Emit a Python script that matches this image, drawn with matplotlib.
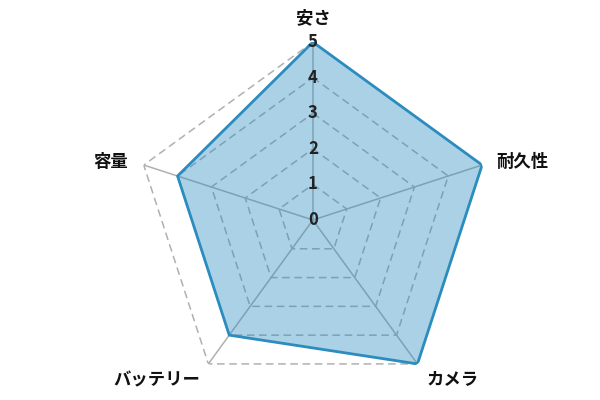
import numpy as np
import matplotlib
matplotlib.use("Agg")
import matplotlib.pyplot as plt

plt.rcParams['font.family'] = ['Noto Sans CJK JP', 'DejaVu Sans']

categories = ["安さ", "耐久性", "カメラ", "バッテリー", "容量"]
values = [5, 5, 5, 4, 4]
levels = [1, 2, 3, 4, 5]
max_value = 5

line_color = "#2b8cbe"
grid_color = "#b0b0b0"

fig = plt.figure(figsize=(6, 4), dpi=100)
ax = fig.add_axes([0.225, 0.005, 0.593, 0.89], projection="polar")
ax.set_theta_offset(np.pi / 2)
ax.set_theta_direction(-1)
ax.set_ylim(0, max_value)
ax.axis("off")

angles = np.linspace(0, 2 * np.pi, len(categories), endpoint=False)
closed = np.append(angles, angles[0])

# polygon grid
for lv in levels:
    ax.plot(closed, [lv] * len(closed), color=grid_color, lw=1.1, ls=(0, (5, 3)), zorder=1)
for a in angles:
    ax.plot([a, a], [0, max_value], color=grid_color, lw=1.1, zorder=1)

# data
vals = values + values[:1]
ax.fill(closed, vals, color=line_color, alpha=0.4, zorder=2, lw=0)
ax.plot(closed, vals, color=line_color, lw=2, zorder=3)

# radial labels
for lv in [0] + levels:
    ax.text(0, lv, str(lv), ha="center", va="center", fontsize=12,
            fontweight="bold", color="#222222", zorder=4)

# category labels
offsets = [(0, 24, "center"), (14, 3, "left"), (9, -16, "left"),
           (-8, -16, "right"), (-16, 3, "right")]
for a, name, (dx, dy, ha) in zip(angles, categories, offsets):
    ax.annotate(name, xy=(a, max_value), xytext=(dx, dy), textcoords="offset pixels",
                ha=ha, va="center", fontsize=12.5, fontweight="bold", color="#111111")

fig.savefig("out.png", dpi=100)
